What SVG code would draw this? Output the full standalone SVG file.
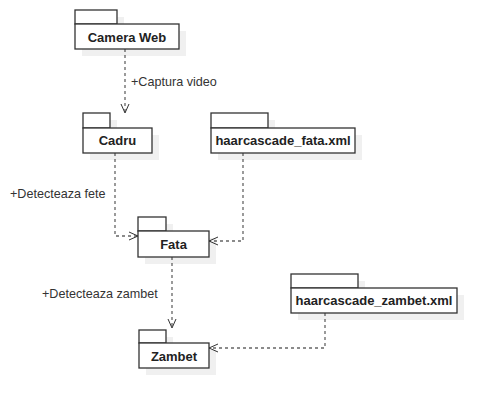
<svg xmlns="http://www.w3.org/2000/svg" width="496" height="409" viewBox="0 0 496 409">
<defs>
<marker id="arr" viewBox="0 0 10 10" refX="10" refY="5" markerWidth="10" markerHeight="10" markerUnits="userSpaceOnUse" orient="auto">
<path d="M1,1 L10,5 L1,9" fill="none" stroke="#333" stroke-width="1"/>
</marker>
</defs>
<style>
.sh{fill:#000;fill-opacity:0.06;stroke:none}
.b{fill:#fff;stroke:#333;stroke-width:1.3}
.t{font-family:"Liberation Sans",Arial,sans-serif;font-size:13px;font-weight:bold;fill:#222;text-anchor:middle}
.l{font-family:"Liberation Sans",Arial,sans-serif;font-size:12.6px;fill:#333}
.c{fill:none;stroke:#666;stroke-width:1.3;stroke-dasharray:3 3}
</style>
<rect width="496" height="409" fill="#fff"/>
<g id="connectors">
<path class="c" d="M125,49 L125,113" marker-end="url(#arr)"/>
<path class="c" d="M115,153 L115,236 L138,236" marker-end="url(#arr)"/>
<path class="c" d="M243,153 L243,241 L209,241" marker-end="url(#arr)"/>
<path class="c" d="M172,257 L172,328" marker-end="url(#arr)"/>
<path class="c" d="M325,313 L325,348 L209,348" marker-end="url(#arr)"/>
<text class="l" x="131" y="85.5">+Captura video</text>
<text class="l" x="10" y="197.5">+Detecteaza fete</text>
<text class="l" x="42" y="297.5">+Detecteaza zambet</text>
</g>
<g id="camera-web">
<rect class="sh" x="82" y="17" width="42" height="14"/>
<rect class="sh" x="82" y="31" width="104" height="25"/>
<rect class="b" x="75" y="10" width="42" height="14"/>
<rect class="b" x="75" y="24" width="104" height="25"/>
<text class="t" x="127" y="41.5">Camera Web</text>
</g>
<g id="cadru">
<rect class="sh" x="90" y="120" width="27" height="15"/>
<rect class="sh" x="90" y="135" width="69" height="25"/>
<rect class="b" x="83" y="113" width="27" height="15"/>
<rect class="b" x="83" y="128" width="69" height="25"/>
<text class="t" x="117.5" y="145">Cadru</text>
</g>
<g id="haarcascade-fata">
<rect class="sh" x="218" y="120" width="57" height="15"/>
<rect class="sh" x="218" y="135" width="144" height="25"/>
<rect class="b" x="211" y="113" width="57" height="15"/>
<rect class="b" x="211" y="128" width="144" height="25"/>
<text class="t" x="283" y="145">haarcascade_fata.xml</text>
</g>
<g id="fata">
<rect class="sh" x="145" y="224" width="28" height="14"/>
<rect class="sh" x="145" y="238" width="71" height="26"/>
<rect class="b" x="138" y="217" width="28" height="14"/>
<rect class="b" x="138" y="231" width="71" height="26"/>
<text class="t" x="173.5" y="248.5">Fata</text>
</g>
<g id="zambet">
<rect class="sh" x="146" y="337" width="27" height="13"/>
<rect class="sh" x="146" y="350" width="70" height="25"/>
<rect class="b" x="139" y="330" width="27" height="13"/>
<rect class="b" x="139" y="343" width="70" height="25"/>
<text class="t" x="174" y="360.5">Zambet</text>
</g>
<g id="haarcascade-zambet">
<rect class="sh" x="298" y="281" width="67" height="14"/>
<rect class="sh" x="298" y="295" width="166" height="25"/>
<rect class="b" x="291" y="274" width="67" height="14"/>
<rect class="b" x="291" y="288" width="166" height="25"/>
<text class="t" x="374" y="305">haarcascade_zambet.xml</text>
</g>
</svg>
